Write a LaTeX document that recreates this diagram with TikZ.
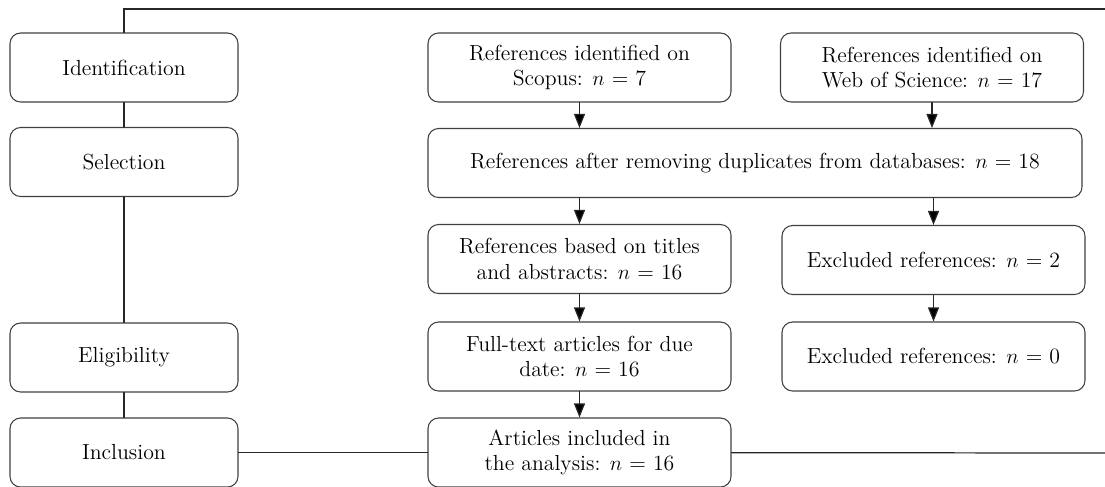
\documentclass[tikz,border=0pt]{standalone}
\usepackage{amsmath,amssymb}
\usepackage{tikz}
\usetikzlibrary{arrows.meta}
\usepackage{xcolor}

\begin{document}
\begin{tikzpicture}[>={Triangle[length=2.8mm,width=2.2mm,fill=black]},font=\fontsize{12.4}{14.5}\selectfont,line cap=round,
  stagebox/.style={draw=black!75,line width=0.6pt,rounded corners=6pt,minimum width=4.56cm,minimum height=1.38cm,align=center},
  refbox/.style={draw=black!75,line width=0.6pt,rounded corners=6pt,minimum width=6.06cm,minimum height=1.38cm,align=center,inner sep=2pt},
  link/.style={black!85,line width=0.7pt}]
\useasboundingbox (0,0) rectangle (22.1,-9.72);
% stages on the left
\node[stagebox] (ident) at (2.48,-1.35) {Identification};
\node[stagebox] (select) at (2.48,-3.24) {Selection};
\node[stagebox] (elig) at (2.48,-7.15) {Eligibility};
\node[stagebox] (incl) at (2.48,-9.05) {Inclusion};
% references
\node[refbox] (scopus) at (11.59,-1.35) {References identified on\\Scopus: $n$ = 7};
\node[refbox] (wos) at (18.64,-1.35) {References identified on\\Web of Science: $n$ = 17};
\node[refbox,minimum width=13.08cm] (dupl) at (15.10,-3.26) {References after removing duplicates from databases: $n$ = 18};
\node[refbox] (titles) at (11.59,-5.18) {References based on titles\\and abstracts: $n$ = 16};
\node[refbox] (excla) at (18.67,-5.2) {Excluded references: $n$ = 2};
\node[refbox] (fulltext) at (11.59,-7.13) {Full-text articles for due\\date: $n$ = 16};
\node[refbox] (exclb) at (18.67,-7.13) {Excluded references: $n$ = 0};
\node[refbox] (articles) at (11.59,-9.05) {Articles included in\\the analysis: $n$ = 16};
% frame lines
\coordinate (corner) at (2.48,-0.18);
\coordinate (topend) at (22.1,-0.18);
\coordinate (botend) at (22.1,-9.06);
\draw[link] (ident.north) -- (corner) -- (topend);
\draw[link] (ident) -- (select);
\draw[link] (select) -- (elig);
\draw[link] (elig) -- (incl);
\draw[link] (incl) -- (articles);
\draw[link] (articles) -- (botend);
% arrows
\draw[link,->] (scopus) -- (scopus|-dupl.north);
\draw[link,->] (wos) -- (wos|-dupl.north);
\draw[link,->] (titles|-dupl.south) -- (titles);
\draw[link,->] (excla|-dupl.south) -- (excla);
\draw[link,->] (titles) -- (fulltext);
\draw[link,->] (excla) -- (exclb);
\draw[link,->] (fulltext) -- (articles);
\end{tikzpicture}
\end{document}
